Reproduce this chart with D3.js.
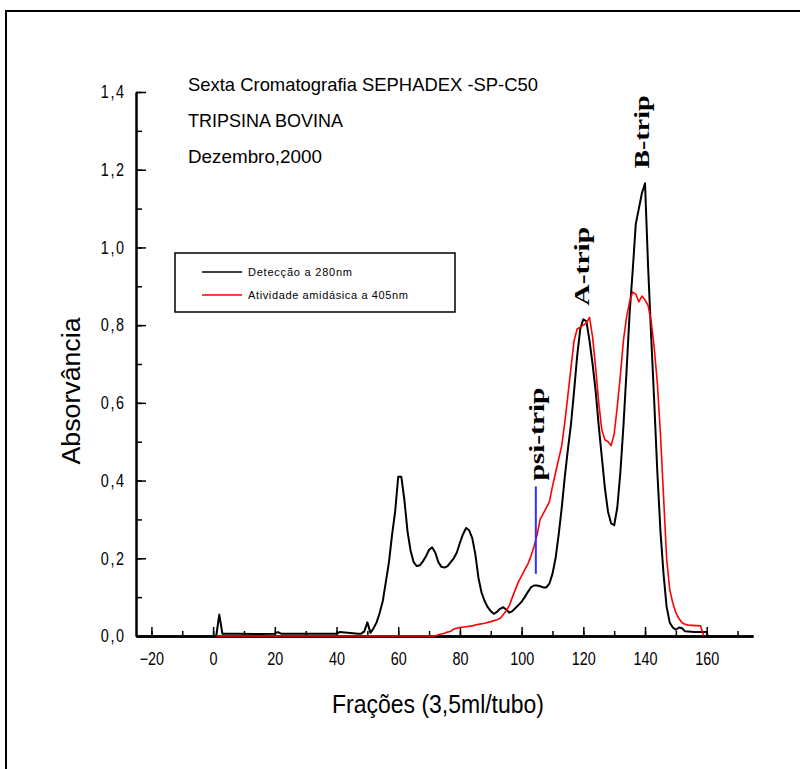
<!DOCTYPE html>
<html>
<head>
<meta charset="utf-8">
<script src="https://cdn.jsdelivr.net/npm/d3@7"></script>
<style>
  body { margin: 0; background: #fff; }
  svg { display: block; }
</style>
</head>
<body>
<svg id="chart" width="800" height="769"></svg>
<script>
// ---- data ----------------------------------------------------------------
const titleLines = ["Sexta Cromatografia SEPHADEX -SP-C50", "TRIPSINA BOVINA", "Dezembro,2000"];
const seriesNames = ["Detecção a 280nm", "Atividade amidásica a 405nm"];
const xTitle = "Frações (3,5ml/tubo)";
const yTitle = "Absorvância";

const xTickValues = [-20, 0, 20, 40, 60, 80, 100, 120, 140, 160];
const yTickValues = [0, 0.2, 0.4, 0.6, 0.8, 1.0, 1.2, 1.4];

// absorbance at 280 nm per tube
const tubes280 = [1, 2, 3, 8, 15, 20, 21, 22, 30, 40, 41, 47, 48, 49, 50, 51, 52, 53, 54, 55,
  56, 57, 58, 59, 60, 61, 62, 63, 64, 65, 66, 67, 68, 69, 70, 71, 72, 73, 74, 75,
  76, 77, 78, 79, 80, 81, 82, 83, 84, 85, 86, 87, 88, 89, 90, 91, 92, 93, 94, 95,
  96, 97, 98, 99, 100, 101, 102, 103, 104, 105, 106, 107, 108, 109, 110, 111, 112, 113, 114, 115,
  116, 117, 118, 119, 120, 121, 122, 123, 124, 125, 126, 127, 128, 129, 130, 131, 132, 133, 134, 135,
  136, 137, 138, 139, 140, 141, 142, 143, 144, 145, 146, 147, 148, 149, 150, 151, 152, 153, 156, 160, 160.3];
const abs280 = [0.0, 0.055, 0.006, 0.006, 0.005, 0.006, 0.01, 0.006, 0.006, 0.006, 0.01, 0.006, 0.006, 0.012, 0.035, 0.008, 0.02, 0.035, 0.06, 0.09,
  0.14, 0.19, 0.26, 0.32, 0.41, 0.41, 0.35, 0.27, 0.22, 0.19, 0.18, 0.182, 0.192, 0.205, 0.222, 0.228, 0.215, 0.19, 0.178, 0.176,
  0.18, 0.19, 0.2, 0.215, 0.24, 0.262, 0.278, 0.272, 0.252, 0.21, 0.15, 0.112, 0.09, 0.074, 0.064, 0.057, 0.062, 0.07, 0.074, 0.068,
  0.06, 0.064, 0.072, 0.08, 0.088, 0.1, 0.113, 0.125, 0.13, 0.13, 0.128, 0.125, 0.125, 0.135, 0.16, 0.2, 0.26, 0.33, 0.41, 0.48,
  0.545, 0.63, 0.72, 0.79, 0.815, 0.81, 0.76, 0.7, 0.63, 0.54, 0.46, 0.38, 0.32, 0.29, 0.285, 0.33, 0.42, 0.54, 0.68, 0.83,
  0.94, 1.06, 1.1, 1.14, 1.165, 0.95, 0.77, 0.6, 0.42, 0.27, 0.16, 0.075, 0.035, 0.022, 0.016, 0.022, 0.02, 0.012, 0.01, 0.01, 0.0];

// amidase activity at 405 nm per tube
const tubes405 = [1, 72, 73, 74, 75, 76, 77, 78, 79, 80, 82, 84, 86, 88, 90, 92, 93, 94, 95, 96,
  97, 98, 99, 100, 101, 102, 103, 104, 105, 106, 107, 108, 109, 110, 111, 112, 113, 114, 115, 116,
  117, 118, 119, 120, 121, 122, 123, 124, 125, 126, 127, 128, 129, 130, 131, 132, 133, 134, 135, 136,
  137, 138, 139, 140, 141, 142, 143, 144, 145, 146, 147, 148, 149, 150, 151, 152, 153, 154, 158, 159];
const act405 = [0.0, 0.0, 0.003, 0.005, 0.007, 0.01, 0.012, 0.018, 0.02, 0.022, 0.024, 0.026, 0.03, 0.033, 0.037, 0.042, 0.045, 0.055, 0.065, 0.078,
  0.1, 0.12, 0.14, 0.155, 0.17, 0.185, 0.205, 0.23, 0.26, 0.3, 0.315, 0.33, 0.345, 0.385, 0.42, 0.455, 0.49, 0.55, 0.62, 0.69,
  0.76, 0.79, 0.795, 0.8, 0.805, 0.82, 0.77, 0.69, 0.6, 0.53, 0.505, 0.5, 0.49, 0.52, 0.59, 0.67, 0.76, 0.82, 0.86, 0.885,
  0.88, 0.86, 0.875, 0.865, 0.85, 0.81, 0.74, 0.65, 0.52, 0.36, 0.2, 0.12, 0.085, 0.06, 0.045, 0.034, 0.03, 0.028, 0.026, 0.0];

// peak names and the marker under psi-trip
const peakNames = ["psi-trip", "A-trip", "B-trip"];
const peakTubes = [107.4, 121.9, 141.4];
const peakLevels = [0.40, 0.85, 1.203];
const psiMarkerTube = [104.6];
const psiMarkerRange = [0.16, 0.385];

// ---- layout --------------------------------------------------------------
const svg = d3.select("#chart");
const sans = "'Liberation Sans', Arial, sans-serif";
const serif = "'Liberation Serif', 'Times New Roman', serif";
const narrow = 0.8; // horizontal squeeze of the tick labels

const x = d3.scaleLinear().domain([-25, 175]).range([136, 753]);
const y = d3.scaleLinear().domain([0, 1.4]).range([636, 92]);

// outer frame
svg.append("rect")
  .attr("x", 6).attr("y", 11).attr("width", 820).attr("height", 800)
  .attr("fill", "none").attr("stroke", "#000").attr("stroke-width", 2);

// title block
const titleWidths = [350, 155, 134];
svg.append("g").selectAll("text").data(titleLines).join("text")
  .attr("x", 188)
  .attr("y", (d, i) => 91 + i * 36)
  .attr("font-family", sans).attr("font-size", 19)
  .attr("textLength", (d, i) => titleWidths[i])
  .attr("lengthAdjust", "spacingAndGlyphs")
  .text(d => d);

// axes
const fmt = v => d3.format(".1f")(v).replace(".", ",");

const xMinor = d3.range(-20, 171, 10);
const yMinor = d3.range(0, 1.41, 0.1);

const gx = svg.append("g").attr("transform", `translate(0,${y(0)})`);
gx.call(d3.axisBottom(x).tickValues(xMinor).tickSize(-5).tickSizeOuter(0).tickFormat(""));
gx.select(".domain").attr("stroke-width", 2.5);
gx.selectAll(".tick line").attr("stroke-width", 1.5);
const gxMaj = svg.append("g").attr("transform", `translate(0,${y(0)})`);
gxMaj.call(d3.axisBottom(x).tickValues(xTickValues).tickSize(-9).tickSizeOuter(0).tickPadding(16).tickFormat(d3.format("d")));
gxMaj.select(".domain").attr("stroke-width", 2.5);
gxMaj.selectAll(".tick line").attr("stroke-width", 1.5);
gxMaj.selectAll(".tick text")
  .attr("font-family", sans).attr("font-size", 18).attr("fill", "#000")
  .attr("transform", `scale(${narrow},1)`);

const gy = svg.append("g").attr("transform", `translate(${x(-25)},0)`);
gy.call(d3.axisLeft(y).tickValues(yMinor).tickSize(-6).tickSizeOuter(0).tickFormat(""));
gy.select(".domain").attr("stroke-width", 2);
gy.selectAll(".tick line").attr("stroke-width", 1.5);
const gyMaj = svg.append("g").attr("transform", `translate(${x(-25)},0)`);
gyMaj.call(d3.axisLeft(y).tickValues(yTickValues).tickSize(-10).tickSizeOuter(0).tickPadding(15).tickFormat(fmt));
gyMaj.select(".domain").attr("stroke-width", 2);
gyMaj.selectAll(".tick line").attr("stroke-width", 1.5);
gyMaj.selectAll(".tick text")
  .attr("font-family", sans).attr("font-size", 18).attr("fill", "#000")
  .attr("textLength", 29).attr("lengthAdjust", "spacing")
  .attr("transform", `scale(${narrow},1)`);

// axis titles
svg.append("text")
  .attr("x", 438).attr("y", 713)
  .attr("text-anchor", "middle")
  .attr("font-family", sans).attr("font-size", 25)
  .attr("textLength", 212).attr("lengthAdjust", "spacingAndGlyphs")
  .text(xTitle);
svg.append("text")
  .attr("transform", "translate(80,391) rotate(-90)")
  .attr("text-anchor", "middle")
  .attr("font-family", sans).attr("font-size", 25)
  .attr("textLength", 147).attr("lengthAdjust", "spacingAndGlyphs")
  .text(yTitle);

// curves
const line = d3.line().x(d => x(d[0])).y(d => y(d[1]));
const data405 = d3.zip(tubes405, act405);
const data280 = d3.zip(tubes280, abs280);

svg.append("path").datum(data280)
  .attr("d", line).attr("fill", "none")
  .attr("stroke", "#000").attr("stroke-width", 2).attr("stroke-linejoin", "round");
svg.append("path").datum(data405)
  .attr("d", line).attr("fill", "none")
  .attr("stroke", "#ff0000").attr("stroke-width", 1.6).attr("stroke-linejoin", "round");

// psi-trip marker
svg.append("line")
  .attr("x1", x(psiMarkerTube[0])).attr("x2", x(psiMarkerTube[0]))
  .attr("y1", y(psiMarkerRange[0])).attr("y2", y(psiMarkerRange[1]))
  .attr("stroke", "#3030ff").attr("stroke-width", 2);

// peak names
const peakWidths = [93, 79, 73];
svg.append("g").selectAll("text").data(peakNames).join("text")
  .attr("transform", (d, i) => `translate(${x(peakTubes[i])},${y(peakLevels[i])}) rotate(-90)`)
  .attr("font-family", serif).attr("font-weight", "bold").attr("font-size", 21)
  .attr("textLength", (d, i) => peakWidths[i]).attr("lengthAdjust", "spacingAndGlyphs")
  .text(d => d);

// legend
const legend = svg.append("g");
legend.append("rect")
  .attr("x", 175).attr("y", 253).attr("width", 280).attr("height", 59)
  .attr("fill", "#fff").attr("stroke", "#000").attr("stroke-width", 1.5);
const legendColors = ["#000", "#ff0000"];
const legendWidths = [104, 160];
seriesNames.forEach((name, i) => {
  const ly = 272 + i * 23;
  legend.append("line")
    .attr("x1", 202).attr("x2", 242).attr("y1", ly).attr("y2", ly)
    .attr("stroke", legendColors[i]).attr("stroke-width", 1.5);
  legend.append("text")
    .attr("x", 248).attr("y", ly + 4)
    .attr("font-family", sans).attr("font-size", 11)
    .attr("textLength", legendWidths[i]).attr("lengthAdjust", "spacing")
    .text(name);
});
</script>
</body>
</html>
